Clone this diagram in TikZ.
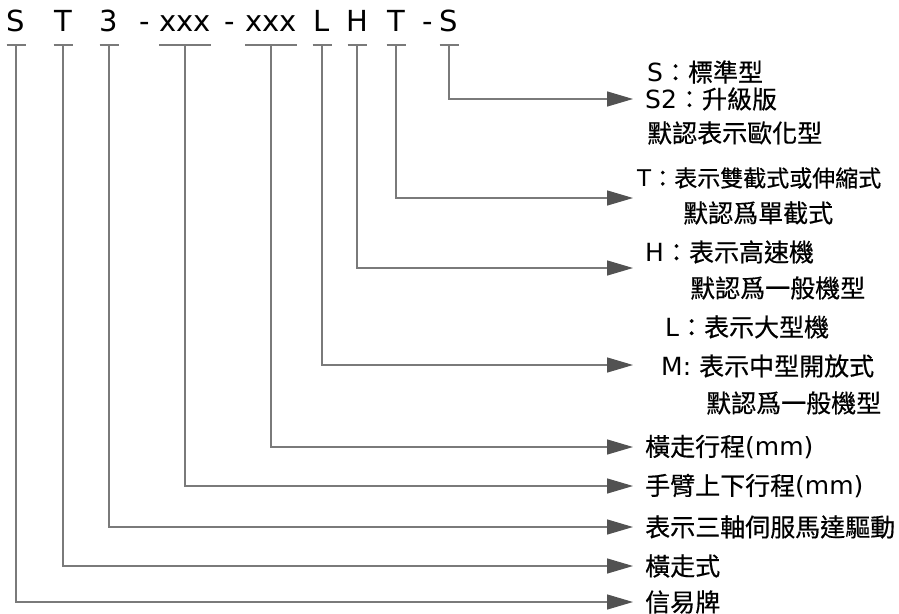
\documentclass[tikz,border=0pt]{standalone}
\usepackage{fontspec}
\setmainfont{DejaVu Sans}
\newfontfamily\cjk[FakeBold=0.5]{Noto Sans CJK TC}
\usetikzlibrary{arrows.meta,positioning}
\tikzset{
  code/.style={anchor=base,inner sep=0pt,font=\fontsize{29}{31}\selectfont},
  lbl/.style={anchor=west,inner sep=0pt,font=\fontsize{25}{27}\selectfont},
  conn/.style={draw=black!52,line width=1.4pt,-{Triangle[length=26pt,width=15pt,fill=black!68,color=black!68]}},
  bar/.style={draw=black!52,line width=1.4pt}
}
\begin{document}
\begin{tikzpicture}[x=1pt,y=-1pt]
 \useasboundingbox (0,0) rectangle (899,613);
 % model code
 \node[code] (cS)  at (16,31)  {S};
 \node[code] (cT)  at (63,31)  {T};
 \node[code] (c3)  at (109,31) {3};
 \node[code] (d1)  at (145,31) {-};
 \node[code] (cX1) at (185,31) {xxx};
 \node[code] (d2)  at (230,31) {-};
 \node[code] (cX2) at (271,31) {xxx};
 \node[code] (cL)  at (322,31) {L};
 \node[code] (cH)  at (357,31) {H};
 \node[code] (cT2) at (396,31) {T};
 \node[code] (d3)  at (428,31) {-};
 \node[code] (cS2) at (449,31) {S};
 % bars under the code
 \coordinate (bS)  at (16,45);
 \coordinate (bT)  at (63,45);
 \coordinate (b3)  at (109,45);
 \coordinate (bX1) at (185,45);
 \coordinate (bX2) at (271,45);
 \coordinate (bL)  at (322,45);
 \coordinate (bH)  at (357,45);
 \coordinate (bT2) at (396,45);
 \coordinate (bS2) at (449,45);
 \foreach \c in {bS,bT,b3,bL,bH,bT2,bS2}
   \draw[bar] ([xshift=-9.5pt]\c) -- ([xshift=9.5pt]\c);
 \foreach \c in {bX1,bX2}
   \draw[bar] ([xshift=-26pt]\c) -- ([xshift=26pt]\c);
 % arrow ends
 \coordinate (aS2) at (633,99);
 \coordinate (aT2) at (633,198);
 \coordinate (aH)  at (633,268);
 \coordinate (aL)  at (633,365);
 \coordinate (aX2) at (633,447);
 \coordinate (aX1) at (633,486);
 \coordinate (a3)  at (633,527);
 \coordinate (aT)  at (633,566);
 \coordinate (aS)  at (633,602);
 % labels
 \node[lbl] (lbS1) at (647,72)  {S{\cjk ：標準型}};
 \node[lbl] (lbS2) at (645,99)  {S2{\cjk ：升級版}};
 \node[lbl] (lbS3) at (647,133) {\cjk 默認表示歐化型};
 \node[lbl,font=\fontsize{23}{25}\selectfont] (lbT1) at (637,178) {T{\cjk ：表示雙截式或伸縮式}};
 \node[lbl] (lbT2) at (683,213) {\cjk 默認爲單截式};
 \node[lbl] (lbH1) at (645,252) {H{\cjk ：表示高速機}};
 \node[lbl] (lbH2) at (690,288) {\cjk 默認爲一般機型};
 \node[lbl] (lbL1) at (665,327) {L{\cjk ：表示大型機}};
 \node[lbl] (lbM1) at (661,366) {M: {\cjk 表示中型開放式}};
 \node[lbl] (lbM2) at (706,403) {\cjk 默認爲一般機型};
 \node[lbl] (lbX2) at (645,447) {{\cjk 橫走行程}(mm)};
 \node[lbl] (lbX1) at (645,486) {{\cjk 手臂上下行程}(mm)};
 \node[lbl] (lb3)  at (645,527) {\cjk 表示三軸伺服馬達驅動};
 \node[lbl] (lbT)  at (645,566) {\cjk 橫走式};
 \node[lbl] (lbS)  at (645,602) {\cjk 信易牌};
 % connectors
 \draw[conn] (bS2) |- (aS2);
 \draw[conn] (bT2) |- (aT2);
 \draw[conn] (bH)  |- (aH);
 \draw[conn] (bL)  |- (aL);
 \draw[conn] (bX2) |- (aX2);
 \draw[conn] (bX1) |- (aX1);
 \draw[conn] (b3)  |- (a3);
 \draw[conn] (bT)  |- (aT);
 \draw[conn] (bS)  |- (aS);
\end{tikzpicture}
\end{document}
